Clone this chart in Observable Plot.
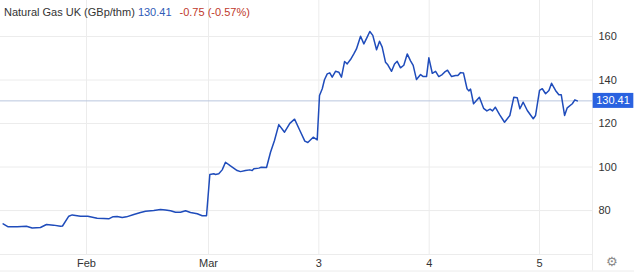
<!DOCTYPE html>
<html>
<head>
<meta charset="utf-8">
<script src="https://cdn.jsdelivr.net/npm/d3@7"></script>
<script src="https://cdn.jsdelivr.net/npm/@observablehq/plot@0.6"></script>
<style>
  html, body { margin: 0; padding: 0; background: #fff; }
  #wrap { position: relative; width: 634px; height: 274px; overflow: hidden; }
  #hdr { position: absolute; left: 4px; top: 6px; font: 11px "Liberation Sans", Arial, sans-serif; color: #333; white-space: nowrap; }
  #gear { position: absolute; left: 606px; top: 254px; font: 13px "DejaVu Sans", sans-serif; color: #8a8a8a; }
</style>
</head>
<body>
<div id="wrap">
  <div id="chart"></div>
  <div id="hdr"></div>
  <span id="gear">⚙</span>
</div>
<script>
// ---- data ----
const seriesName = "Natural Gas UK (GBp/thm)";
const lastPrice = 130.41;
const change = -0.75;
const changePct = -0.57;

// time in trading-day units (Mar = 2, "3" = 3, ...)
const times = [
  0.139, 0.181, 0.266, 0.350, 0.402, 0.477, 0.532, 0.595, 0.659, 0.677,
  0.734, 0.765, 0.840, 0.906, 0.991, 1.051, 1.096, 1.136, 1.172, 1.218,
  1.257, 1.323, 1.384, 1.429, 1.504, 1.565, 1.610, 1.656, 1.701, 1.746,
  1.792, 1.837, 1.898, 1.943, 1.982, 2.012, 2.048, 2.063, 2.093, 2.124,
  2.154, 2.199, 2.260, 2.290, 2.335, 2.374, 2.396, 2.411, 2.456, 2.478,
  2.526, 2.562, 2.598, 2.637, 2.689, 2.737, 2.780, 2.828, 2.873, 2.900,
  2.949, 2.985, 3.006, 3.031, 3.051, 3.076, 3.099, 3.121, 3.151, 3.181,
  3.205, 3.233, 3.257, 3.287, 3.317, 3.341, 3.378, 3.408, 3.438, 3.462,
  3.489, 3.523, 3.550, 3.574, 3.604, 3.625, 3.659, 3.686, 3.710, 3.740,
  3.770, 3.801, 3.831, 3.855, 3.885, 3.922, 3.946, 3.976, 3.997, 4.028,
  4.058, 4.087, 4.118, 4.139, 4.166, 4.203, 4.239, 4.260, 4.284, 4.311,
  4.343, 4.359, 4.375, 4.402, 4.455, 4.493, 4.523, 4.552, 4.574, 4.599,
  4.638, 4.683, 4.731, 4.767, 4.798, 4.822, 4.852, 4.889, 4.943, 4.964,
  5.000, 5.025, 5.055, 5.085, 5.109, 5.145, 5.175, 5.197, 5.227, 5.251,
  5.297, 5.320, 5.342
];
const prices = [
  73.9, 72.6, 72.6, 72.8, 72.0, 72.2, 73.6, 73.3, 72.8, 72.9,
  77.4, 78.0, 77.4, 77.4, 76.5, 76.4, 76.2, 77.2, 77.3, 76.8,
  77.1, 78.2, 79.1, 79.7, 80.0, 80.5, 80.3, 79.9, 79.2, 79.2,
  79.9, 79.1, 78.5, 77.6, 77.6, 96.6, 96.9, 96.6, 96.9, 98.7,
  102.2, 100.5, 98.4, 97.9, 98.4, 98.7, 98.4, 99.2, 99.5, 99.9,
  99.8, 106.8, 112.2, 119.5, 116.0, 120.1, 122.0, 116.8, 111.9, 111.3,
  113.7, 112.5, 132.9, 136.0, 140.1, 142.8, 143.3, 141.3, 144.0, 143.6,
  141.3, 148.5, 147.4, 149.4, 152.0, 154.3, 160.1, 156.6, 159.7, 162.3,
  160.5, 153.9, 157.8, 155.1, 148.2, 147.0, 144.0, 147.4, 148.6, 145.6,
  146.8, 152.0, 148.8, 146.7, 140.2, 142.5, 141.6, 141.6, 150.2, 143.1,
  144.0, 141.6, 142.5, 143.6, 144.5, 141.6, 142.1, 142.1, 143.4, 143.2,
  136.0, 135.0, 135.8, 129.1, 132.1, 127.0, 125.8, 126.6, 125.8, 127.5,
  124.1, 120.6, 123.7, 132.1, 131.8, 126.8, 129.8, 126.0, 122.2, 123.7,
  135.2, 136.0, 133.7, 135.2, 138.5, 135.2, 133.2, 133.2, 123.7, 127.2,
  129.1, 130.9, 130.41
];
const xTicks = [0.894, 2, 3, 4, 5];
const xTickLabels = ["Feb", "Mar", "3", "4", "5"];
const yTicks = [80, 100, 120, 140, 160];

// ---- build ----
const data = times.map((t, i) => ({t, v: prices[i]}));
const xDomain = [0.115, 5.48];
const yDomain = [59.8, 176.55];
const yOuter = 52.2;     // level of the outer bottom border (below the axis band)
const xOuter = 5.861;    // right edge of the picture in x units
const grid = "#ececec";
const labelText = lastPrice.toFixed(2);

const chart = Plot.plot({
  width: 634,
  height: 274,
  marginLeft: 0,
  marginRight: 42,
  marginTop: 0,
  marginBottom: 20,
  x: {domain: xDomain},
  y: {domain: yDomain},
  style: {fontFamily: "'Liberation Sans', Arial, sans-serif", fontSize: "11px", color: "#333", background: "transparent"},
  marks: [
    Plot.gridY(yTicks, {stroke: grid, strokeOpacity: 1}),
    Plot.gridX(xTicks, {stroke: grid, strokeOpacity: 1}),
    Plot.ruleY([yDomain[0]], {stroke: grid}),
    Plot.ruleY([yOuter], {x1: xDomain[0], x2: xOuter, stroke: grid, clip: false}),
    Plot.ruleX([xDomain[1]], {y1: yOuter, y2: yDomain[1], stroke: grid, clip: false}),
    Plot.ruleY([lastPrice], {stroke: "#b9c6de"}),
    Plot.line(data, {x: "t", y: "v", stroke: "#1f4cbb", strokeWidth: 1.5}),
    Plot.axisY(yTicks, {anchor: "right", tickSize: 0, tickPadding: 6, label: null, fill: "#333"}),
    Plot.axisX(xTicks, {anchor: "bottom", tickSize: 0, tickPadding: 5, label: null, fill: "#333",
      tickFormat: d => xTickLabels[xTicks.indexOf(d)]}),
    Plot.text([lastPrice], {x: xDomain[1], y: d => d, text: d => d.toFixed(2), dx: 20.5, fill: "white", textAnchor: "middle", clip: false})
  ]
});
document.getElementById("chart").appendChild(chart);

// label box behind the last-price text
d3.select(chart).selectAll("text").each(function() {
  if (this.textContent === labelText) {
    const g = this.closest("g");
    if (g && g.getAttribute("fill") === "white") {
      const bb = this.getBBox();
      const ctm = this.getAttribute("transform");
      const r = document.createElementNS("http://www.w3.org/2000/svg", "rect");
      r.setAttribute("x", bb.x - 3.5);
      r.setAttribute("y", bb.y - 1.5);
      r.setAttribute("width", bb.width + 7);
      r.setAttribute("height", bb.height + 3);
      r.setAttribute("fill", "#2a62e0");
      if (ctm) r.setAttribute("transform", ctm);
      this.parentNode.insertBefore(r, this);
    }
  }
});

// header
const hdr = d3.select("#hdr");
hdr.append("span").text(seriesName + " ");
hdr.append("span").style("color", "#2f5bb7").text(lastPrice.toFixed(2));
hdr.append("span").style("color", "#c0392b").style("margin-left", "8px")
  .text(`${change.toFixed(2)} (${changePct.toFixed(2)}%)`);
</script>
</body>
</html>
